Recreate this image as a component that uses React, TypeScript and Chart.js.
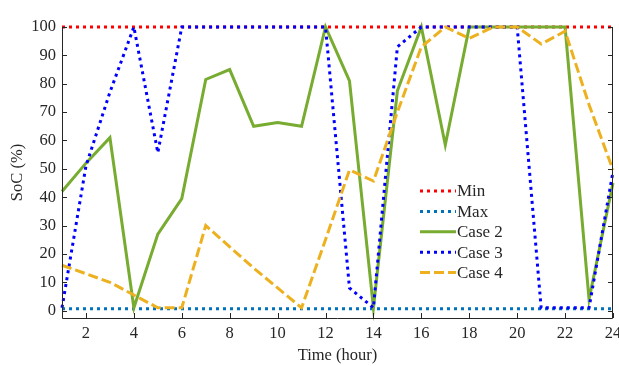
import React, { useEffect, useRef } from "react";
import { Chart, registerables } from "chart.js";

Chart.register(...registerables);

const hours = [1, 2, 3, 4, 5, 6, 7, 8, 9, 10, 11, 12, 13, 14, 15, 16, 17, 18, 19, 20, 21, 22, 23, 24];
const minLine = [100, 100, 100, 100, 100, 100, 100, 100, 100, 100, 100, 100, 100, 100, 100, 100, 100, 100, 100, 100, 100, 100, 100, 100];
const maxLine = [0.7, 0.7, 0.7, 0.7, 0.7, 0.7, 0.7, 0.7, 0.7, 0.7, 0.7, 0.7, 0.7, 0.7, 0.7, 0.7, 0.7, 0.7, 0.7, 0.7, 0.7, 0.7, 0.7, 0.7];
const case2 = [42, 52, 61, 1, 27, 39.5, 81.5, 85, 65, 66.3, 65, 100, 81, 1, 77.5, 100, 58.4, 100, 100, 100, 100, 100, 4, 45];
const case3 = [1, 51, 77, 100, 55.7, 100, 100, 100, 100, 100, 100, 100, 8, 1, 93, 100, 100, 100, 100, 100, 1, 1, 1, 49];
const case4 = [16, 13, 10, 5.5, 1, 1, 30, 22.5, 15, 8, 1, 25, 49.6, 45.7, 70, 93, 100, 96, 100, 100, 94, 98.5, 72.6, 49.6];
const xTicks = [2, 4, 6, 8, 10, 12, 14, 16, 18, 20, 22, 24];
const yTicks = [0, 10, 20, 30, 40, 50, 60, 70, 80, 90, 100];
const seriesNames = ["Min", "Max", "Case 2", "Case 3", "Case 4"];

const FONT = "'Liberation Serif', 'Times New Roman', serif";
const FS = 16.5;

function pts(vals: number[]) {
  return hours.map((h, i) => ({ x: h, y: vals[i] }));
}

const framePlugin = {
  id: "frame",
  afterDatasetsDraw(chart: any) {
    const { ctx, chartArea: a, scales } = chart;
    ctx.save();
    ctx.strokeStyle = "#262626";
    ctx.lineWidth = 1;
    ctx.beginPath();
    ctx.moveTo(a.left + 0.5, a.top);
    ctx.lineTo(a.left + 0.5, a.bottom + 0.5);
    ctx.lineTo(a.right - 0.5, a.bottom + 0.5);
    ctx.lineTo(a.right - 0.5, a.top);
    ctx.stroke();
    const tl = 5;
    ctx.beginPath();
    for (const v of xTicks) {
      const x = Math.round(scales.x.getPixelForValue(v)) + 0.5;
      ctx.moveTo(x, a.bottom);
      ctx.lineTo(x, a.bottom - tl);
    }
    for (const v of yTicks) {
      const y = Math.round(scales.y.getPixelForValue(v)) + 0.5;
      ctx.moveTo(a.left, y);
      ctx.lineTo(a.left + tl, y);
      ctx.moveTo(a.right, y);
      ctx.lineTo(a.right - tl, y);
    }
    ctx.stroke();

    // legend inside the plot
    const lx = a.left + 358;
    const ly = a.top + 164;
    const rowH = 20.4;
    ctx.font = "17px " + FONT;
    ctx.textBaseline = "middle";
    ctx.textAlign = "left";
    chart.data.datasets.forEach((ds: any, i: number) => {
      const y = ly + i * rowH;
      ctx.strokeStyle = ds.borderColor;
      ctx.lineWidth = ds.borderWidth;
      ctx.setLineDash(ds.borderDash || []);
      ctx.beginPath();
      ctx.moveTo(lx, y);
      ctx.lineTo(lx + 36, y);
      ctx.stroke();
      ctx.setLineDash([]);
      ctx.fillStyle = "#262626";
      ctx.fillText(ds.label, lx + 37, y + 1);
    });
    ctx.restore();
  },
};

export default function App() {
  const ref = useRef<HTMLCanvasElement | null>(null);
  useEffect(() => {
    document.body.style.margin = "0";
    const canvas = ref.current;
    if (!canvas) return;
    const chart = new Chart(canvas, {
      type: "line",
      data: {
        datasets: [
          { label: seriesNames[0], data: pts(minLine), borderColor: "#FF0000", borderWidth: 3, borderDash: [3, 4], pointRadius: 0, order: 5, borderCapStyle: "butt", clip: 6 },
          { label: seriesNames[1], data: pts(maxLine), borderColor: "#0072BD", borderWidth: 3, borderDash: [3, 4], pointRadius: 0, order: 4, borderCapStyle: "butt", clip: 6 },
          { label: seriesNames[2], data: pts(case2), borderColor: "#77AC30", borderWidth: 3, pointRadius: 0, order: 3, clip: 6 },
          { label: seriesNames[3], data: pts(case3), borderColor: "#0000FF", borderWidth: 3, borderDash: [3, 4], pointRadius: 0, order: 2, borderCapStyle: "butt", clip: 6 },
          { label: seriesNames[4], data: pts(case4), borderColor: "#EDB120", borderWidth: 3, borderDash: [10, 4], pointRadius: 0, order: 1, borderCapStyle: "butt", clip: 6 },
        ] as any,
      },
      options: {
        animation: false,
        responsive: false,
        maintainAspectRatio: false,
        layout: { padding: { top: 27, right: 6, left: 8, bottom: 0 } },
        plugins: { legend: { display: false }, tooltip: { enabled: false } },
        scales: {
          x: {
            type: "linear",
            min: 1,
            max: 24,
            afterBuildTicks: (s: any) => { s.ticks = xTicks.map((v) => ({ value: v })); },
            afterFit: (s: any) => { s.height = 48; s.paddingRight = 0; s.paddingLeft = 0; },
            grid: { display: false, drawTicks: false },
            border: { display: false },
            ticks: { color: "#262626", font: { family: FONT, size: FS }, padding: 6, maxRotation: 0, autoSkip: false },
            title: { display: true, text: "Time (hour)", color: "#262626", font: { family: FONT, size: FS }, padding: { top: 0, bottom: 0 } },
          },
          y: {
            type: "linear",
            min: -2.6,
            max: 100,
            afterBuildTicks: (s: any) => { s.ticks = yTicks.map((v) => ({ value: v })); },
            afterFit: (s: any) => { s.width = 54; s.paddingTop = 0; s.paddingBottom = 0; },
            grid: { display: false, drawTicks: false },
            border: { display: false },
            ticks: { color: "#262626", font: { family: FONT, size: FS }, padding: 6, autoSkip: false },
            title: { display: true, text: "SoC (%)", color: "#262626", font: { family: FONT, size: FS }, padding: { top: 0, bottom: 4 } },
          },
        },
      } as any,
      plugins: [framePlugin],
    });
    return () => chart.destroy();
  }, []);
  return (
    <div style={{ width: 619, height: 366 }}>
      <canvas ref={ref} width={619} height={366} style={{ display: "block" }} />
    </div>
  );
}
